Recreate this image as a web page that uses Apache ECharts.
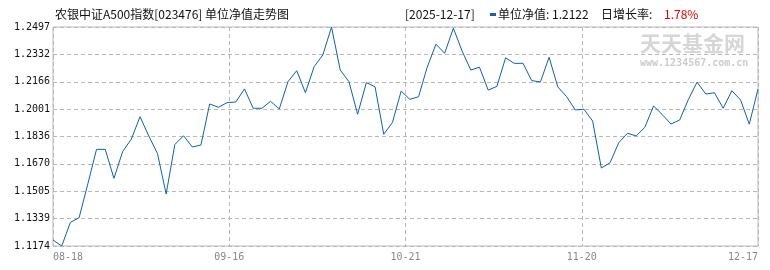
<!DOCTYPE html>
<html>
<head>
<meta charset="utf-8">
<script src="https://cdn.jsdelivr.net/npm/echarts@6/dist/echarts.min.js"></script>
<style>
html,body{margin:0;padding:0;background:#fff;}
#chart{width:770px;height:270px;}
</style>
</head>
<body>
<div id="chart"></div>
<script>
const dates = [
  '2025-08-18','2025-08-19','2025-08-20','2025-08-21','2025-08-22','2025-08-25','2025-08-26','2025-08-27','2025-08-28','2025-08-29',
  '2025-09-01','2025-09-02','2025-09-03','2025-09-04','2025-09-05','2025-09-08','2025-09-09','2025-09-10','2025-09-11','2025-09-12',
  '2025-09-15','2025-09-16','2025-09-17','2025-09-18','2025-09-19','2025-09-22','2025-09-23','2025-09-24','2025-09-25','2025-09-26',
  '2025-09-29','2025-09-30','2025-10-09','2025-10-10','2025-10-13','2025-10-14','2025-10-15','2025-10-16','2025-10-17','2025-10-20',
  '2025-10-21','2025-10-22','2025-10-23','2025-10-24','2025-10-27','2025-10-28','2025-10-29','2025-10-30','2025-10-31','2025-11-03',
  '2025-11-04','2025-11-05','2025-11-06','2025-11-07','2025-11-10','2025-11-11','2025-11-12','2025-11-13','2025-11-14','2025-11-17',
  '2025-11-18','2025-11-19','2025-11-20','2025-11-21','2025-11-24','2025-11-25','2025-11-26','2025-11-27','2025-11-28','2025-12-01',
  '2025-12-02','2025-12-03','2025-12-04','2025-12-05','2025-12-08','2025-12-09','2025-12-10','2025-12-11','2025-12-12','2025-12-15',
  '2025-12-16','2025-12-17'
];
const nav = [
  1.1210,1.1174,1.1317,1.1345,1.1549,1.1758,1.1758,1.1583,1.1744,1.1820,
  1.1955,1.1839,1.1733,1.1488,1.1787,1.1840,1.1772,1.1784,1.2032,1.2012,
  1.2040,1.2044,1.2123,1.2006,1.2006,1.2048,1.2002,1.2167,1.2233,1.2100,
  1.2257,1.2328,1.2497,1.2237,1.2167,1.1970,1.2161,1.2136,1.1849,1.1920,
  1.2110,1.2060,1.2076,1.2255,1.2393,1.2338,1.2490,1.2352,1.2237,1.2254,
  1.2116,1.2138,1.2311,1.2277,1.2278,1.2173,1.2165,1.2314,1.2135,1.2077,
  1.1996,1.2000,1.1929,1.1645,1.1677,1.1798,1.1855,1.1839,1.1891,1.2020,
  1.1968,1.1911,1.1935,1.2059,1.2164,1.2092,1.2100,1.2006,1.2112,1.2056,
  1.1910,1.2122
];
const yTicks = [1.1174,1.1339,1.1505,1.1670,1.1836,1.2001,1.2166,1.2332,1.2497];
const xTickLabels = ['08-18','09-16','10-21','11-20','12-17'];
const titleText = '农银中证A500指数[023476] 单位净值走势图';
const dateText = '[2025-12-17]';
const navText = '单位净值: 1.2122';
const growthLabel = '日增长率:';
const growthText = '1.78%';

const chart = echarts.init(document.getElementById('chart'), null, {renderer:'canvas'});
const lastIdx = dates.length - 1;
const xInterval = lastIdx / 4;
const cjk = "'Noto Sans CJK SC', sans-serif";
const mono = "'DejaVu Sans Mono', monospace";
const lineColor = '#1060b0';

chart.setOption({
  animation: false,
  backgroundColor: '#ffffff',
  grid: {left: 53, right: 12, top: 27, bottom: 24, show: true, borderColor: '#bcbcbc', borderWidth: 1},
  xAxis: {
    type: 'value', min: 0, max: lastIdx, interval: xInterval,
    axisLine: {show: false}, axisTick: {show: false},
    splitLine: {show: true, lineStyle: {color: '#b8b8b8', type: [4, 3], width: 1}},
    axisLabel: {
      formatter: function (v) { return xTickLabels[Math.round(v / xInterval)]; },
      color: '#888888', fontFamily: mono, fontSize: 10, margin: 6,
      alignMinLabel: 'left', alignMaxLabel: 'right'
    }
  },
  yAxis: {
    type: 'value', min: yTicks[0], max: yTicks[yTicks.length - 1],
    axisLine: {show: false},
    axisTick: {show: false, customValues: yTicks},
    splitLine: {show: true, lineStyle: {color: '#b8b8b8', type: [4, 3], width: 1}},
    axisLabel: {
      customValues: yTicks,
      formatter: function (v) { return Number(v).toFixed(4); },
      color: '#111111', fontFamily: mono, fontSize: 10, margin: 3
    }
  },
  graphic: [
    {type: 'text', left: 55, top: 8, style: {text: titleText, font: '12px ' + cjk, fill: '#111'}},
    {type: 'text', left: 405, top: 8, style: {text: dateText, font: '12px ' + cjk, fill: '#111'}},
    {type: 'rect', left: 490, top: 13, shape: {width: 6, height: 3}, style: {fill: '#1a5fb4'}},
    {type: 'text', left: 498, top: 8, style: {text: navText, font: '12px ' + cjk, fill: '#111'}},
    {type: 'text', left: 601, top: 8, style: {text: growthLabel, font: '12px ' + cjk, fill: '#111'}},
    {type: 'text', left: 664, top: 8, style: {text: growthText, font: '12px ' + cjk, fill: '#e00000'}},
    {type: 'text', left: 640, top: 33, z: -1, style: {text: '天天基金网', font: 'bold 21px ' + cjk, fill: '#d6d6d6'}},
    {type: 'text', left: 640, top: 58, z: -1, style: {text: 'www.1234567.com.cn', font: 'bold 10px ' + mono, fill: '#cccccc'}}
  ],
  series: [{
    type: 'line',
    data: nav.map(function (v, i) { return [i, v]; }),
    symbol: 'none',
    lineStyle: {color: lineColor, width: 1},
    z: 5
  }]
});
</script>
</body>
</html>
